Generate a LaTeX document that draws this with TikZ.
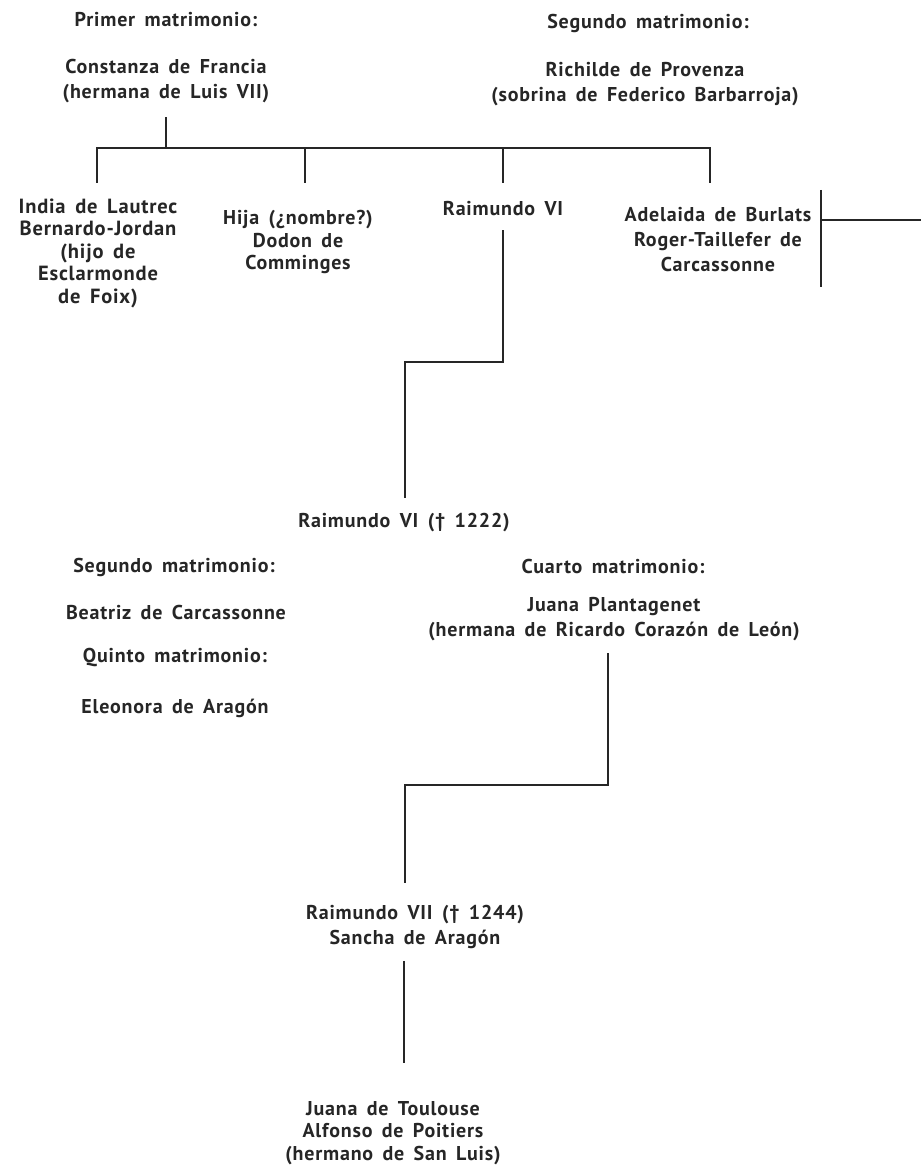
\documentclass[tikz,border=0pt]{standalone}
\usepackage{fontspec}
\setmainfont{PT Sans}[LetterSpace=4,WordSpace=1.6]
\begin{document}
\begin{tikzpicture}[x=1pt,y=-1pt,
  txt/.style={align=center,inner sep=0pt,font=\fontsize{20}{25}\selectfont\bfseries,text=black!85},
  txtb/.style={align=center,inner sep=0pt,font=\fontsize{20}{22.5}\selectfont\bfseries,text=black!85},
  ln/.style={line width=1.6pt,black!85}]
\useasboundingbox (0,0) rectangle (921,1169);
% top generation
\node[txt] (p1lab) at (166,20) {Primer matrimonio:};
\node[txt] (p1) at (166,81) {Constanza de Francia\\(hermana de Luis VII)};
\node[txt] (p2lab) at (648,23) {Segundo matrimonio:};
\node[txt] (p2) at (645,84) {Richilde de Provenza\\(sobrina de Federico Barbarroja)};
% children
\node[txtb,font=\fontsize{20.5}{22.5}\selectfont\bfseries] (c1) at (98,253) {India de Lautrec\\Bernardo-Jordan\\(hijo de\\Esclarmonde\\de Foix)};
\node[txtb] (c2) at (298,242) {Hija (¿nombre?)\\Dodon de\\Comminges};
\node[txt] (c3) at (503,209) {Raimundo VI};
\node[txt] (c4) at (718,240) {Adelaida de Burlats\\Roger-Taillefer de\\Carcassonne};
% connectors top
\coordinate (b1) at (97,148);
\coordinate (b2) at (305,148);
\coordinate (b3) at (503,148);
\coordinate (b4) at (710,148);
\draw[ln] (p1.south) ++(0,14) -- (p1.south |- b1);
\draw[ln] (b1) ++(0,35) -- (b1) -- (b4) -- ++(0,35);
\draw[ln] (b2) -- ++(0,35);
\draw[ln] (b3) -- ++(0,35);
% Adelaida bracket
\coordinate (ad1) at (821,190);
\coordinate (ad2) at (821,287);
\coordinate (ad3) at (921,220);
\draw[ln] (ad1) -- (ad2);
\draw[ln] (ad1 |- ad3) -- (ad3);
% Raimundo VI
\node[txt] (r6) at (404,523) {Raimundo VI (\textdagger{} 1222)};
\coordinate (k1) at (503,362);
\coordinate (k2) at (405,362);
\coordinate (k3) at (405,498);
\draw[ln] (c3.south) ++(0,14) -- (k1) -- (k2) -- (k3);
% marriages
\node[txt] (s2lab) at (174,567) {Segundo matrimonio:};
\node[txt] (s2) at (176,612) {Beatriz de Carcassonne};
\node[txt] (s5lab) at (175,658) {Quinto matrimonio:};
\node[txt] (s5) at (175,708) {Eleonora de Aragón};
\node[txt] (s4lab) at (613,566) {Cuarto matrimonio:};
\node[txt] (s4) at (614,619) {Juana Plantagenet\\(hermana de Ricardo Corazón de León)};
% Raimundo VII
\node[txt] (r7) at (415,927) {Raimundo VII (\textdagger{} 1244)\\Sancha de Aragón};
\coordinate (m1) at (608,785);
\coordinate (m2) at (405,785);
\coordinate (m3) at (405,883);
\draw[ln] (s4.south -| m1) ++(0,12) -- (m1) -- (m2) -- (m3);
% Juana
\node[txtb] (j) at (393,1133) {Juana de Toulouse\\Alfonso de Poitiers\\(hermano de San Luis)};
\coordinate (n1) at (404,1063);
\draw[ln] (r7.south -| n1) ++(0,12) -- (n1);
\end{tikzpicture}
\end{document}
